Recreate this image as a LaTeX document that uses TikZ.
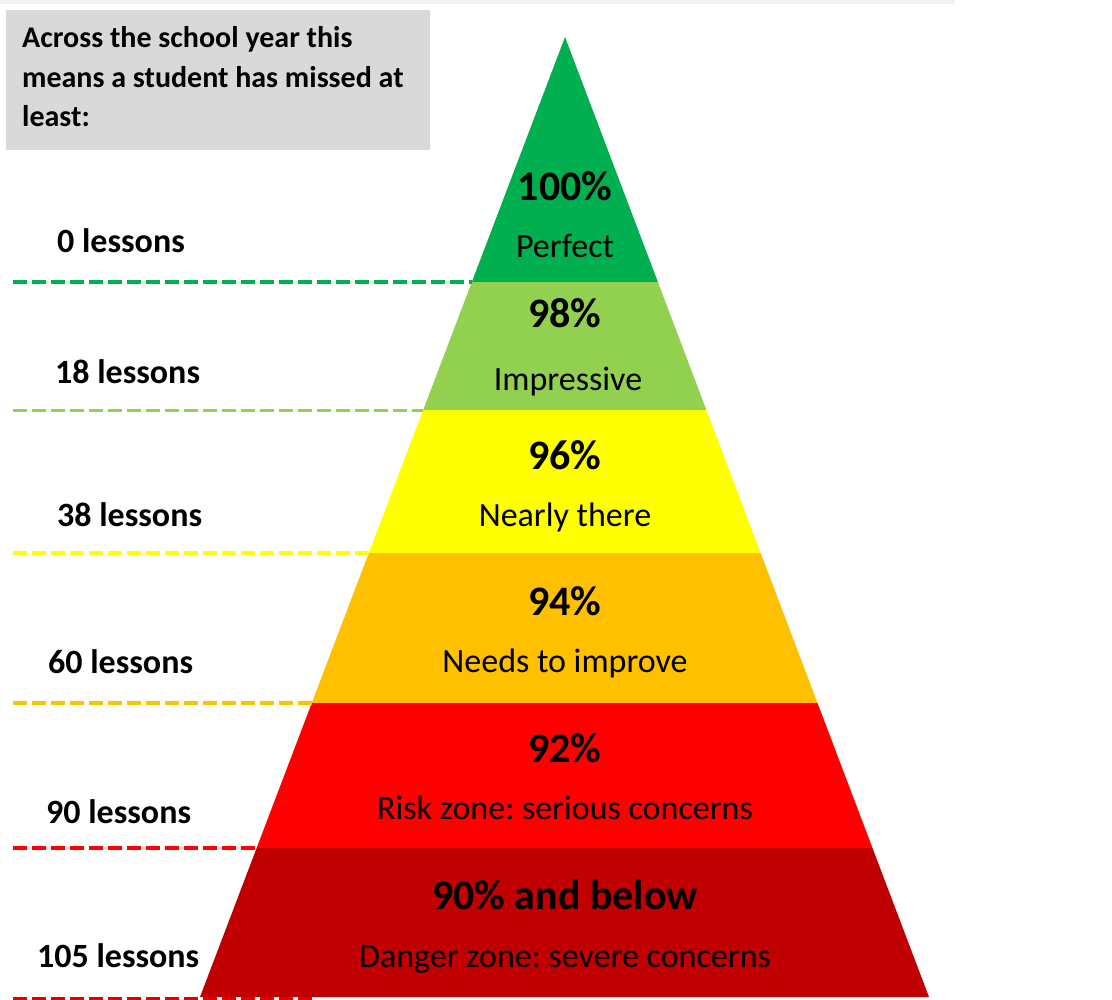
\documentclass[tikz,border=0pt]{standalone}
\usepackage{fontspec}
\setmainfont{Carlito}
\usepackage{xcolor}
\usetikzlibrary{calc}
\frenchspacing

\definecolor{lvgreen}{HTML}{00B050}
\definecolor{lvlime}{HTML}{92D050}
\definecolor{lvyellow}{HTML}{FFFF00}
\definecolor{lvorange}{HTML}{FFC000}
\definecolor{lvred}{HTML}{FF0000}
\definecolor{lvdark}{HTML}{C00000}
\definecolor{notegray}{HTML}{D9D9D9}

\tikzset{
  pct/.style={anchor=base,inner sep=0pt,font=\fontsize{42}{50}\selectfont\bfseries},
  desc/.style={anchor=base,inner sep=0pt,font=\fontsize{34}{40}\selectfont},
  lessons/.style={anchor=base west,inner sep=0pt,font=\fontsize{34}{40}\selectfont\bfseries},
  levelline/.style={line width=3.5pt,dash pattern=on 14pt off 5pt}
}

\begin{document}
\begin{tikzpicture}[x=1pt,y=-1pt]
\useasboundingbox (0,0) rectangle (1112,1000);
\fill[black!5] (0,0) rectangle (955,4);

% note box top left
\fill[notegray] (6,10) rectangle (430,150);
\node[anchor=base west,inner sep=0pt,align=left,font=\fontsize{30}{39.5}\selectfont\bfseries] (note) at (22,127) {Across the school year this\\means a student has missed at\\least:};

% pyramid corners and level edges
\coordinate (apex) at (565,37);
\coordinate (bl) at (200,997);
\coordinate (br) at (929,997);
\coordinate (margin) at (13,0);
\coordinate (e1) at ($(apex)!0.2552!(bl)$);
\coordinate (e2) at ($(apex)!0.3891!(bl)$);
\coordinate (e3) at ($(apex)!0.5375!(bl)$);
\coordinate (e4) at ($(apex)!0.6938!(bl)$);
\coordinate (e5) at ($(apex)!0.8448!(bl)$);

\begin{scope}
\clip (apex) -- (bl) -- (br) -- cycle;
\fill[lvgreen] (0,0) rectangle (1112,282);
\fill[lvlime] (0,282) rectangle (1112,410.5);
\fill[lvyellow] (0,410.5) rectangle (1112,553);
\fill[lvorange] (0,553) rectangle (1112,703);
\fill[lvred] (0,703) rectangle (1112,848);
\fill[lvdark] (0,848) rectangle (1112,998);
\end{scope}

% dashed level lines
\draw[levelline,lvgreen] (margin |- e1) -- (e1);
\draw[levelline,lvlime] (margin |- e2) -- (e2);
\draw[levelline,lvyellow] (margin |- e3) -- (e3);
\draw[levelline,lvorange] (margin |- e4) -- (e4);
\draw[levelline,lvred] (margin |- e5) -- (e5);
\coordinate (bend) at ($(bl)+(115,1.5)$);
\draw[levelline,red!90!black] (margin |- bend) -- (bend);

% lessons missed
\node[lessons] (l0) at (57,253) {0 lessons};
\node[lessons] (l18) at (55,384) {18 lessons};
\node[lessons] (l38) at (57,526) {38 lessons};
\node[lessons] (l60) at (48,673) {60 lessons};
\node[lessons] (l90) at (46,823) {90 lessons};
\node[lessons] (l105) at (37,967) {105 lessons};

% levels
\node[pct] (p100) at (565,201) {100\%};
\node[desc] (d100) at (565,258) {Perfect};
\node[pct] (p98) at (565,328) {98\%};
\node[desc] (d98) at (568,391) {Impressive};
\node[pct] (p96) at (565,469) {96\%};
\node[desc] (d96) at (565,526) {Nearly there};
\node[pct] (p94) at (565,615) {94\%};
\node[desc] (d94) at (565,672) {Needs to improve};
\node[pct] (p92) at (565,762) {92\%};
\node[desc] (d92) at (565,819) {Risk zone: serious concerns};
\node[pct] (p90) at (565,909) {90\% and below};
\node[desc] (d90) at (565,967) {Danger zone: severe concerns};
\end{tikzpicture}
\end{document}
